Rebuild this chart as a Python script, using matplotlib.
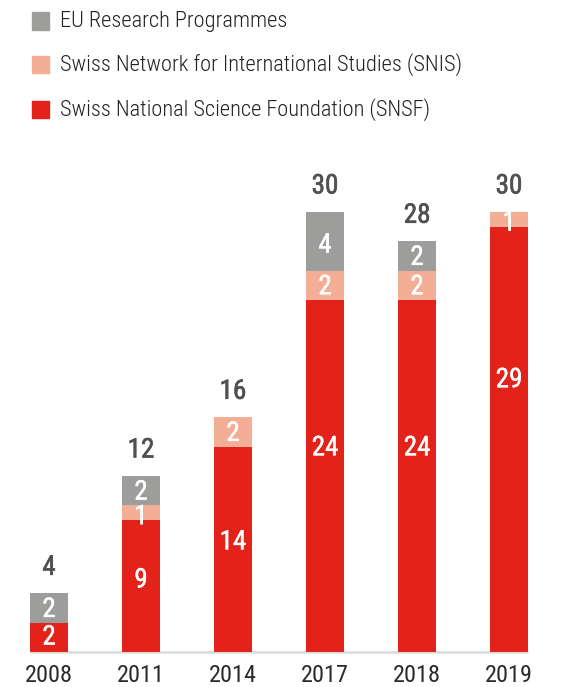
import matplotlib
matplotlib.use("Agg")
import matplotlib.pyplot as plt
from matplotlib.patches import Rectangle
import matplotlib.patheffects as pe
import matplotlib.font_manager as fm

years = ["2008", "2011", "2014", "2017", "2018", "2019"]
snsf = [2, 9, 14, 24, 24, 29]
snis = [0, 1, 2, 2, 2, 1]
eu = [2, 2, 0, 4, 2, 0]
series_names = ["EU Research Programmes",
                "Swiss Network for International Studies (SNIS)",
                "Swiss National Science Foundation (SNSF)"]
c_red = "#E3231A"
c_salmon = "#F5AE96"
c_gray = "#9D9D9C"
# vertical placement (fraction of segment) of the white SNSF value labels
snsf_label_frac = [0.51, 0.545, 0.536, 0.58, 0.58, 0.64]

names = {f.name for f in fm.fontManager.ttflist}
fam = ["Roboto Condensed", "Liberation Sans Narrow", "DejaVu Sans Condensed", "DejaVu Sans"]
fam = [f for f in fam if f in names] or ["DejaVu Sans"]
plt.rcParams["font.family"] = fam

W, H = 565, 687
fig = plt.figure(figsize=(W / 100, H / 100), dpi=100)
base_px = 35
top_px = H - 150
ax = fig.add_axes([0, base_px / H, 1, (top_px - base_px) / H])
pxu = 14.67
ax.set_ylim(0, (top_px - base_px) / pxu)
sp = 92.0
c0 = 49.0
ax.set_xlim(-c0 / sp, (W - c0) / sp)
ax.axis("off")

x = list(range(len(years)))
bw = 38 / sp
ax.bar(x, snsf, width=bw, color=c_red, zorder=2)
ax.bar(x, snis, width=bw, bottom=snsf, color=c_salmon, zorder=2)
bot3 = [a + b for a, b in zip(snsf, snis)]
ax.bar(x, eu, width=bw, bottom=bot3, color=c_gray, zorder=2)

lab_fs = 19.5
shift = 4 / pxu
white_fx = [pe.withStroke(linewidth=0.3, foreground="white")]
tot_col = "#505052"
tot_fx = [pe.withStroke(linewidth=0.45, foreground=tot_col)]
for i in x:
    ax.text(i, snsf[i] * snsf_label_frac[i], str(snsf[i]), ha="center", va="center",
            color="white", fontsize=lab_fs, zorder=3, path_effects=white_fx)
    for b, v in [(snsf[i], snis[i]), (bot3[i], eu[i])]:
        if v > 0:
            yc = b + v / 2 - (shift if v != 2 else 0.1)
            ax.text(i, yc, str(v), ha="center", va="center", color="white",
                    fontsize=lab_fs, zorder=4, path_effects=white_fx)
    tot = snsf[i] + snis[i] + eu[i]
    ax.text(i, tot + 1.77, str(tot), ha="center", va="center", color=tot_col,
            fontsize=lab_fs, path_effects=tot_fx)
    ax.text(i, -1.57, years[i], ha="center", va="center", color="#2A2A2A",
            fontsize=17.5, clip_on=False)

ax.plot([x[0] - bw / 2, x[-1] + bw / 2], [-0.03, -0.03], color="#DADADA",
        lw=1.8, zorder=1, clip_on=False, solid_capstyle="butt")

cols = [c_gray, c_salmon, c_red]
ys = [21, 64.5, 109.5]
for name, c, yp in zip(series_names, cols, ys):
    fig.patches.append(Rectangle((32 / W, 1 - (yp + 8.5) / H), 17 / W, 17 / H,
                                 transform=fig.transFigure, color=c))
    fig.text(60 / W, 1 - (yp + 0.5) / H, name, ha="left", va="center", fontsize=16.1,
             fontweight="light", color="#222222")

fig.savefig("out.png", dpi=100)
